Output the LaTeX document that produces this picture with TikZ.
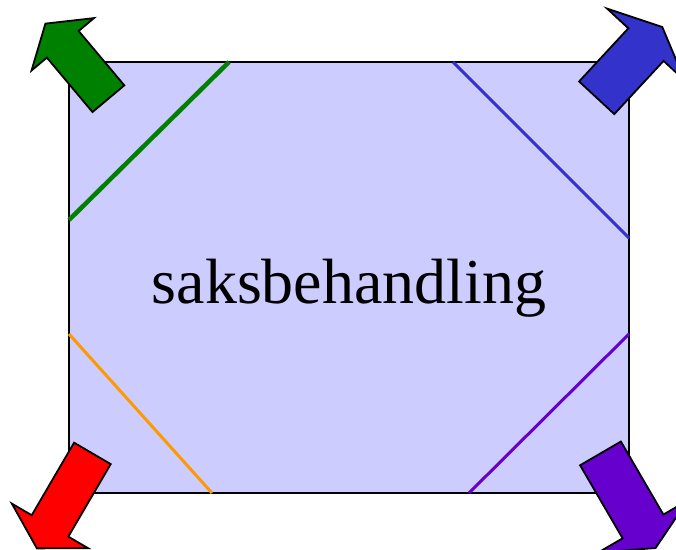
\documentclass[tikz,border=0pt]{standalone}
\usepackage{fontspec}
\setmainfont{Liberation Serif}
\usepackage{tikz}
\definecolor{boks}{RGB}{204,204,255}
\definecolor{gronn}{RGB}{0,128,0}
\definecolor{blaa}{RGB}{51,51,204}
\definecolor{oransje}{RGB}{255,153,0}
\definecolor{lilla}{RGB}{102,0,204}
% #1 farge, #2 start, #3 vinkel, #4 skaft, #5 halv bredde, #6 mothake, #7 spiss
\newcommand{\blokkpil}[7]{%
  \draw[line width=1.8pt, miter limit=20, fill=#1, shift={#2}, rotate=#3]
    (0,-#5) -- (#4,-#5) -- (#4,-#5-#6) -- (#4+#7,0) -- (#4,#5+#6) -- (#4,#5) -- (0,#5) -- cycle;}

\begin{document}
\begin{tikzpicture}[x=1pt,y=1pt]
    \useasboundingbox (0,0) rectangle (676,549);
    \clip (0,0) rectangle (676,549);
    \draw[line width=1.8pt, fill=boks] (69,56) rectangle (629,487);
    \draw[line width=4.5pt, gronn] (69,329) -- (229,487);
    \draw[line width=3pt, blaa] (453,487) -- (629,311);
    \draw[line width=3pt, oransje] (69,215) -- (212,56);
    \draw[line width=3pt, lilla] (469,56) -- (629,215);
    \node[anchor=base, inner sep=0, font=\fontsize{64}{70}\selectfont] (tekst) at (349,245) {saksbehandling};
    \blokkpil{gronn}{(108.4,450.3)}{130}{71}{20.75}{20}{27}
    \blokkpil{blaa}{(596.7,451.2)}{47.2}{72.5}{24}{29}{24}
    \blokkpil{red}{(92.4,95.6)}{239.7}{84}{21.2}{23}{26}
    \blokkpil{lilla}{(600.5,95.6)}{-59.8}{84.5}{23.6}{28}{25}
\end{tikzpicture}
\end{document}
